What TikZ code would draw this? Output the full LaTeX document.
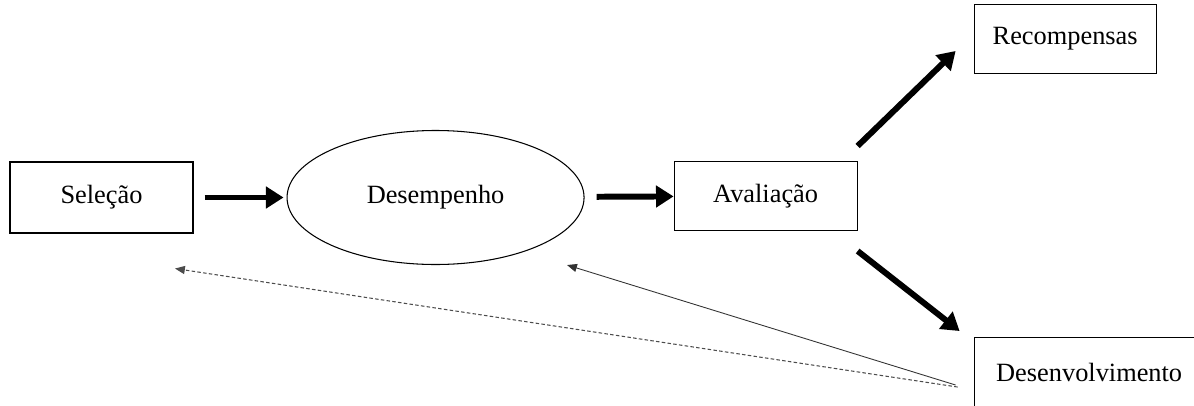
\documentclass[tikz,border=0pt]{standalone}
\usepackage{fontspec}
\setmainfont{Liberation Serif}
\usepackage{tikz}
\usetikzlibrary{positioning, arrows.meta, shapes.geometric}

\begin{document}
\begin{tikzpicture}[every node/.style={font=\fontsize{15pt}{18pt}\selectfont},
        box/.style={rectangle, draw, line width=0.6pt, minimum width=3.66cm, minimum height=1.38cm},
        bigarrow/.style={line width=3.4pt, -{Triangle[length=10pt, width=12pt]}},
        thinarrow/.style={line width=0.5pt, draw=black!80, -{Triangle[length=5.6pt, width=4.6pt]}},
        dotarrow/.style={line width=0.6pt, draw=black!70, dash pattern=on 2pt off 1.3pt, -{Triangle[length=5.6pt, width=4.6pt]}}]
        \useasboundingbox (0,0) rectangle (23.88,8.1);
        \clip (0,0) rectangle (23.88,8.1);
        \node[box, minimum height=1.42cm] (selecao) at (2.03,4.15) {Seleção};
        \node[ellipse, draw, line width=0.6pt, inner sep=0pt, minimum width=5.94cm, minimum height=2.68cm, right=1.86cm of selecao] (desempenho) {Desempenho};
        \node[box, right=1.78cm of desempenho, yshift=0.03cm] (avaliacao) {Avaliação};
        \node[box, minimum width=3.64cm, above right=1.74cm and 2.32cm of avaliacao] (recompensas) {Recompensas};
        \node[box, minimum width=4.6cm, below right=2.12cm and 2.32cm of avaliacao] (desenvolvimento) {Desenvolvimento};
        % Arrows between components
        \draw[bigarrow, shorten <=0.22cm, shorten >=0.06cm] (selecao) -- (desempenho);
        \draw[bigarrow, shorten <=0.24cm] (desempenho) -- (avaliacao);
        \draw[bigarrow] ([yshift=0.3cm]avaliacao.north east) -- ([shift={(-0.36,0.46)}]recompensas.south west);
        \draw[bigarrow] ([yshift=-0.4cm]avaliacao.south east) -- ([shift={(-0.28,0.12)}]desenvolvimento.north west);
        % Feedback lines
        \draw[dotarrow] ([shift={(-0.32,-1.0)}]desenvolvimento.north west) -- ([shift={(1.47,-0.7)}]selecao.south);
        \draw[thinarrow] ([shift={(-0.36,-0.96)}]desenvolvimento.north west) -- ([xshift=2.63cm]desempenho.south);
    \end{tikzpicture}
\end{document}
